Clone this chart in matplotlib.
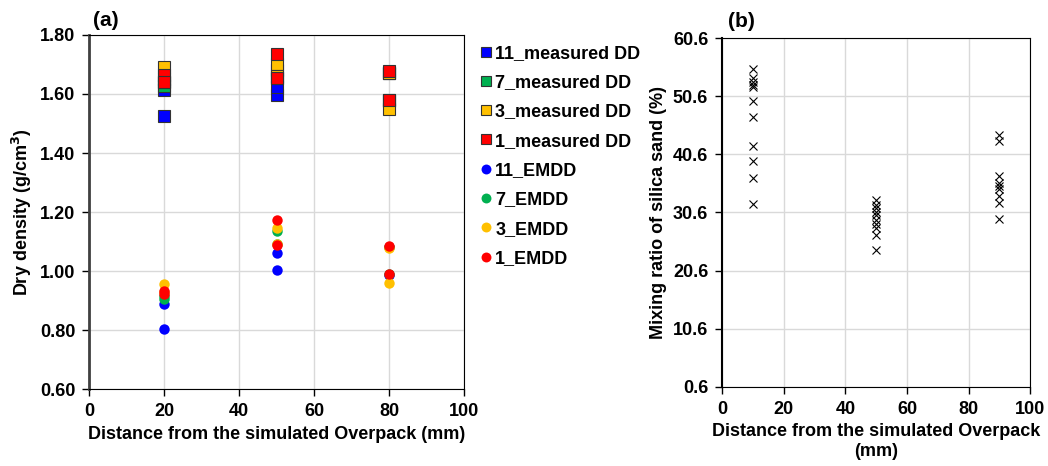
import matplotlib
matplotlib.use("Agg")
import matplotlib.pyplot as plt

plt.rcParams['font.family'] = ['Liberation Sans', 'DejaVu Sans']
plt.rcParams['font.weight'] = 'bold'

# (a) measured dry density, two samples per distance
dist_a = [20, 20, 50, 50, 80, 80]
dd_11 = [1.527, 1.612, 1.596, 1.622, 1.575, 1.672]
dd_7 = [1.628, 1.640, 1.682, 1.655, 1.578, 1.672]
dd_3 = [1.693, 1.650, 1.703, 1.660, 1.548, 1.670]
dd_1 = [1.663, 1.640, 1.735, 1.655, 1.580, 1.678]

# (a) EMDD
emdd_11 = [0.804, 0.887, 1.004, 1.062, 0.985, 1.080]
emdd_7 = [0.907, 0.915, 1.136, 1.090, 0.990, 1.082]
emdd_3 = [0.956, 0.930, 1.147, 1.090, 0.958, 1.079]
emdd_1 = [0.922, 0.932, 1.174, 1.088, 0.989, 1.086]

labels_dd = ['11_measured DD', '7_measured DD', '3_measured DD', '1_measured DD']
labels_emdd = ['11_EMDD', '7_EMDD', '3_EMDD', '1_EMDD']
colors = ['#0000FF', '#00B050', '#FFC000', '#FF0000']

# (b) mixing ratio of silica sand
mix_10 = [55.3, 53.8, 53.0, 52.6, 52.2, 49.8, 47.1, 42.0, 39.5, 36.6, 32.0]
mix_50 = [32.8, 31.9, 31.3, 30.7, 30.1, 29.3, 28.7, 27.9, 26.7, 24.2]
mix_90 = [44.0, 42.9, 36.8, 35.7, 35.1, 34.6, 33.4, 32.2, 29.5]

fig = plt.figure(figsize=(10.48, 4.66), dpi=100)
ax1 = fig.add_axes([0.085, 0.165, 0.358, 0.76])
ax2 = fig.add_axes([0.689, 0.170, 0.294, 0.748])

handles = []
for vals, c, lab in zip([dd_11, dd_7, dd_3, dd_1], colors, labels_dd):
    h, = ax1.plot(dist_a, vals, linestyle='none', marker='s', ms=8, mfc=c,
                  mec='#333333', mew=0.8, label=lab)
    handles.append(h)
for vals, c, lab in zip([emdd_11, emdd_7, emdd_3, emdd_1], colors, labels_emdd):
    h, = ax1.plot(dist_a, vals, linestyle='none', marker='o', ms=7.5, mfc=c,
                  mec=c, mew=0, label=lab)
    handles.append(h)

ax1.set_xlim(0, 100)
ax1.set_ylim(0.6, 1.8)
ax1.set_xticks([0, 20, 40, 60, 80, 100])
ax1.set_yticks([0.6, 0.8, 1.0, 1.2, 1.4, 1.6, 1.8])
ax1.set_yticklabels(['%.2f' % v for v in ax1.get_yticks()])
ax1.grid(True, color='#D9D9D9', lw=1)
ax1.set_axisbelow(True)
ax1.spines['left'].set_color('#404040')
ax1.spines['left'].set_linewidth(2)
ax1.set_xlabel('Distance from the simulated Overpack (mm)', fontsize=13, fontweight='bold', labelpad=4)
ax1.set_ylabel('Dry density (g/cm$^\\mathbf{3}$)', fontsize=13, fontweight='bold')
ax1.text(0.01, 1.015, '(a)', transform=ax1.transAxes, fontsize=15, fontweight='bold', va='bottom')

fig.legend(handles=handles, loc='upper left', bbox_to_anchor=(0.451, 0.919), frameon=False,
           fontsize=13, handlelength=0.7, handletextpad=0.15, labelspacing=0.68,
           borderaxespad=0, markerscale=0.95)

ax2.plot([10] * len(mix_10), mix_10, linestyle='none', marker='x', ms=6, mew=0.8, color='black')
ax2.plot([50] * len(mix_50), mix_50, linestyle='none', marker='x', ms=6, mew=0.8, color='black')
ax2.plot([90] * len(mix_90), mix_90, linestyle='none', marker='x', ms=6, mew=0.8, color='black')
ax2.set_xlim(0, 100)
ax2.set_ylim(0.6, 60.6)
ax2.set_xticks([0, 20, 40, 60, 80, 100])
ax2.set_yticks([0.6, 10.6, 20.6, 30.6, 40.6, 50.6, 60.6])
ax2.set_yticklabels(['%.1f' % v for v in ax2.get_yticks()])
ax2.grid(True, color='#D9D9D9', lw=1)
ax2.set_axisbelow(True)
ax2.spines['left'].set_linewidth(1.5)
ax2.set_xlabel('Distance from the simulated Overpack\n(mm)', fontsize=13, fontweight='bold', labelpad=4)
ax2.set_ylabel('Mixing ratio of silica sand (%)', fontsize=13, fontweight='bold')
ax2.text(0.02, 1.02, '(b)', transform=ax2.transAxes, fontsize=15, fontweight='bold', va='bottom')

for ax in (ax1, ax2):
    ax.tick_params(direction='out', length=5, width=1, labelsize=13, pad=5)
    for lab in ax.get_xticklabels() + ax.get_yticklabels():
        lab.set_fontweight('bold')

fig.savefig('out.png', dpi=100)
